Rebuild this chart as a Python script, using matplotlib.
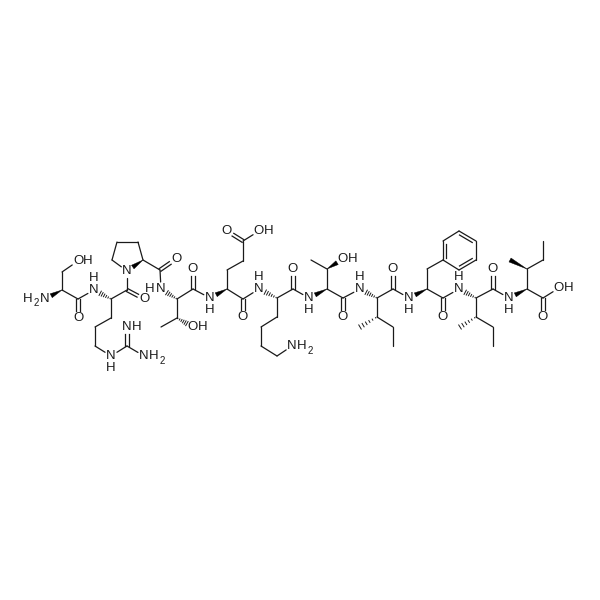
import matplotlib
matplotlib.use('Agg')
import matplotlib.pyplot as plt
import numpy as np

plt.rcParams['font.family'] = ['Liberation Sans', 'DejaVu Sans']

# atom positions, in pixels
ser = {'sN': (45, 299), 'sA': (62, 290), 'sB': (62, 272), 'sOG': (78, 261), 'sC': (78, 299), 'sO': (78, 318)}
arg = {'rN': (94, 290), 'rA': (111, 299), 'rC': (127, 290), 'rO': (144, 299), 'rB': (111, 318), 'rG': (95, 327),
       'rD': (95, 346), 'rE': (111, 356), 'rZ': (127, 346), 'rH1': (127, 327), 'rH2': (144, 356)}
pro = {'pN': (127, 271), 'pD': (112, 260), 'pG': (117, 242), 'pB': (138, 242), 'pA': (143, 260), 'pC': (160, 270),
       'pO': (176, 259)}
thr1 = {'tN': (161, 289), 'tA': (177, 299), 'tC': (193, 289), 'tO': (193, 269), 'tB': (177, 318), 'tM': (161, 327),
        'tOG': (193, 327)}
glu = {'eN': (210, 298), 'eA': (227, 289), 'eC': (243, 299), 'eO': (243, 317), 'eB': (227, 270), 'eG': (243, 261),
       'eD': (243, 241), 'eO1': (227, 231), 'eO2': (259, 231)}
lys = {'kN': (259, 289), 'kA': (277, 298), 'kC': (293, 289), 'kO': (293, 269), 'kB': (277, 317), 'kG': (261, 327),
       'kD': (261, 346), 'kE': (277, 356), 'kZ': (292, 346)}
thr2 = {'uN': (309, 298), 'uA': (327, 289), 'uC': (343, 298), 'uO': (343, 317), 'uB': (327, 269), 'uM': (311, 260),
        'uOG': (343, 259)}
ile1 = {'iN': (360, 289), 'iA': (377, 298), 'iC': (393, 289), 'iO': (393, 269), 'iB': (377, 317), 'iM': (360, 327),
        'iG': (393, 327), 'iD': (393, 346)}
phe = {'fN': (409, 298), 'fA': (427, 289), 'fC': (443, 298), 'fO': (443, 317), 'fB': (427, 269), 'f1': (443, 260),
       'f2': (443, 241), 'f3': (459, 231), 'f4': (476, 241), 'f5': (476, 260), 'f6': (459, 270)}
ile2 = {'jN': (459, 289), 'jA': (476, 298), 'jC': (493, 289), 'jO': (493, 269), 'jB': (476, 317), 'jM': (460, 327),
        'jG': (493, 327), 'jD': (493, 346)}
ile3 = {'lN': (509, 298), 'lA': (527, 289), 'lC': (543, 298), 'lO': (543, 317), 'lOH': (559, 288), 'lB': (527, 269),
        'lM': (510, 260), 'lG': (543, 260), 'lD': (543, 241)}

atoms = {}
for res in [ser, arg, pro, thr1, glu, lys, thr2, ile1, phe, ile2, ile3]:
    atoms.update(res)

single = ['sA-sB', 'sB-sOG', 'sA-sC', 'sC-rN', 'rA-rC', 'rC-pN', 'rA-rB', 'rB-rG', 'rG-rD', 'rD-rE', 'rE-rZ',
          'rZ-rH2', 'pN-pD', 'pD-pG', 'pG-pB', 'pB-pA', 'pA-pC', 'pC-tN', 'tA-tC', 'tA-tB', 'tB-tM', 'tC-eN',
          'eA-eC', 'eA-eB', 'eB-eG', 'eG-eD', 'eD-eO2', 'eC-kN', 'kA-kC', 'kA-kB', 'kB-kG', 'kG-kD', 'kD-kE',
          'kE-kZ', 'kC-uN', 'uA-uC', 'uA-uB', 'uB-uM', 'uC-iN', 'iA-iC', 'iA-iB', 'iB-iG', 'iG-iD', 'iC-fN',
          'fA-fC', 'fA-fB', 'fB-f1', 'fC-jN', 'jA-jC', 'jA-jB', 'jB-jG', 'jG-jD', 'jC-lN', 'lA-lC', 'lC-lOH',
          'lA-lB', 'lB-lG', 'lG-lD', 'f2-f3', 'f4-f5', 'f6-f1']
double = ['sC-sO', 'rC-rO', 'pC-pO', 'tC-tO', 'eC-eO', 'eD-eO1', 'kC-kO', 'uC-uO', 'iC-iO', 'fC-fO', 'jC-jO',
          'lC-lO', 'rZ-rH1']
ring_double = ['f1-f2', 'f3-f4', 'f5-f6']
wedge = ['sA-sN', 'pA-pN', 'eA-eN', 'uA-uN', 'uB-uOG', 'fA-fN', 'lA-lN', 'lB-lM']
hashed = ['rA-rN', 'tA-tN', 'tB-tOG', 'kA-kN', 'iA-iN', 'iB-iM', 'jA-jN', 'jB-jM']

# atoms that carry a letter, bonds stop short of them
oxygens = ['sOG', 'sO', 'rO', 'pO', 'tO', 'tOG', 'eO', 'eO1', 'eO2', 'kO', 'uO', 'uOG', 'iO', 'fO', 'jO', 'lO', 'lOH']
nitrogens = ['sN', 'rN', 'rE', 'rH1', 'rH2', 'pN', 'tN', 'eN', 'kN', 'kZ', 'uN', 'iN', 'fN', 'jN', 'lN']

hydrogen_x = [28, 88, 94, 111, 137, 154, 150, 203, 210, 269, 259, 302, 309, 353, 360, 409, 459, 509, 569]
hydrogen_y = [299, 261, 278, 368, 327, 356, 289, 327, 310, 231, 277, 346, 310, 259, 277, 310, 277, 310, 288]
two_x = [36, 162, 310]
two_y = [303, 361, 351]

ink = '#1a1a1a'
lw = 0.9
size = 9.5


def ends(bond):
    a, b = bond.split('-')
    p = np.array(atoms[a], dtype=float)
    q = np.array(atoms[b], dtype=float)
    u = (q - p) / np.linalg.norm(q - p)
    if a in oxygens or a in nitrogens:
        p = p + u * 7
    if b in oxygens or b in nitrogens:
        q = q - u * 7
    return p, q, np.array([-u[1], u[0]])


fig = plt.figure(figsize=(6, 6), dpi=100)
ax = fig.add_axes([0, 0, 1, 1])
ax.set_xlim(0, 600)
ax.set_ylim(600, 0)
ax.axis('off')

for bond in single:
    p, q, n = ends(bond)
    ax.plot([p[0], q[0]], [p[1], q[1]], color=ink, lw=lw, solid_capstyle='round')

for bond in double:
    p, q, n = ends(bond)
    for s in (-1.6, 1.6):
        ax.plot([p[0] + s * n[0], q[0] + s * n[0]], [p[1] + s * n[1], q[1] + s * n[1]], color=ink, lw=lw)

ring_centre = np.mean([atoms['f' + str(i)] for i in range(1, 7)], axis=0)
for bond in ring_double:
    p, q, n = ends(bond)
    ax.plot([p[0], q[0]], [p[1], q[1]], color=ink, lw=lw, solid_capstyle='round')
    if np.dot(ring_centre - p, n) < 0:
        n = -n
    u = (q - p) / np.linalg.norm(q - p)
    a = p + n * 3.2 + u * 2.5
    b = q + n * 3.2 - u * 2.5
    ax.plot([a[0], b[0]], [a[1], b[1]], color=ink, lw=lw)

for bond in wedge:
    p, q, n = ends(bond)
    ax.fill([p[0], q[0] + n[0] * 2.2, q[0] - n[0] * 2.2], [p[1], q[1] + n[1] * 2.2, q[1] - n[1] * 2.2],
            color='black', lw=0.3)

for bond in hashed:
    p, q, n = ends(bond)
    for t in np.linspace(0.08, 1, 6):
        c = p + (q - p) * t
        w = 2.4 * t
        ax.plot([c[0] - n[0] * w, c[0] + n[0] * w], [c[1] - n[1] * w, c[1] + n[1] * w], color=ink, lw=0.7)

for name in oxygens:
    ax.text(atoms[name][0], atoms[name][1], 'O', fontsize=size, color=ink, ha='center', va='center')
for name in nitrogens:
    ax.text(atoms[name][0], atoms[name][1], 'N', fontsize=size, color=ink, ha='center', va='center')
for x, y in zip(hydrogen_x, hydrogen_y):
    ax.text(x, y, 'H', fontsize=size, color=ink, ha='center', va='center')
for x, y in zip(two_x, two_y):
    ax.text(x, y, '2', fontsize=7, color=ink, ha='center', va='center')

fig.savefig('out.png', dpi=100, facecolor='white')
